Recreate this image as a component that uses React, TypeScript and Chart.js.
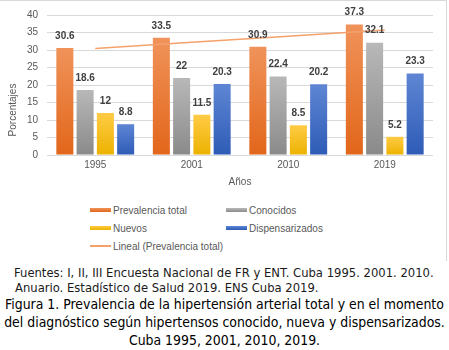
import React, { useEffect, useRef } from "react";
import { Chart, registerables } from "chart.js";

Chart.register(...registerables);

const years = ["1995", "2001", "2010", "2019"];
const prevalenciaTotal = [30.6, 33.5, 30.9, 37.3];
const conocidos = [18.6, 22, 22.4, 32.1];
const nuevos = [12, 11.5, 8.5, 5.2];
const dispensarizados = [8.8, 20.3, 20.2, 23.3];
const linealPrevalencia = [30.45, 32.2, 33.95, 35.7];
const yTicks = [0, 5, 10, 15, 20, 25, 30, 35, 40];

const seriesNames = ["Prevalencia total", "Conocidos", "Nuevos", "Dispensarizados", "Lineal (Prevalencia total)"];

const FONT = "'Liberation Sans', Arial, sans-serif";
const TXT = "#595959";

const colors = {
  orange: ["#F0935A", "#E2661A"],
  gray: ["#B8B8B8", "#8A8A8A"],
  yellow: ["#FFCB45", "#ECB200"],
  blue: ["#5E86D4", "#2E5BB6"],
};

function grad(top: string, bottom: string) {
  return (ctx: any) => {
    const chart = ctx.chart;
    const area = chart.chartArea;
    if (!area || ctx.type !== "data") return bottom;
    const y = chart.scales.y.getPixelForValue(ctx.raw);
    const g = chart.ctx.createLinearGradient(0, y, 0, area.bottom);
    g.addColorStop(0, top);
    g.addColorStop(1, bottom);
    return g;
  };
}

const labelPlugin = {
  id: "barLabels",
  afterDatasetsDraw(chart: any) {
    const ctx = chart.ctx;
    ctx.save();
    ctx.font = `bold 10px ${FONT}`;
    ctx.fillStyle = "#404040";
    ctx.textAlign = "center";
    ctx.textBaseline = "middle";
    for (let d = 0; d < 4; d++) {
      const meta = chart.getDatasetMeta(d);
      meta.data.forEach((el: any, i: number) => {
        const v = chart.data.datasets[d].data[i];
        ctx.fillText(String(v), el.x, el.y - 12);
      });
    }
    // axis titles
    ctx.font = `10px ${FONT}`;
    ctx.fillStyle = TXT;
    const area = chart.chartArea;
    ctx.fillText("Años", (area.left + area.right) / 2, 182);
    ctx.translate(13, 110);
    ctx.rotate(-Math.PI / 2);
    ctx.fillText("Porcentajes", 0, 0);
    ctx.restore();
  },
};

function App() {
  const ref = useRef<HTMLCanvasElement>(null);
  useEffect(() => {
    if (!ref.current) return;
    const barOpts = { categoryPercentage: 0.84, barPercentage: 0.84, order: 2 };
    const chart = new Chart(ref.current, {
      type: "bar",
      data: {
        labels: years,
        datasets: [
          { label: seriesNames[0], data: prevalenciaTotal, backgroundColor: grad(colors.orange[0], colors.orange[1]), ...barOpts },
          { label: seriesNames[1], data: conocidos, backgroundColor: grad(colors.gray[0], colors.gray[1]), ...barOpts },
          { label: seriesNames[2], data: nuevos, backgroundColor: grad(colors.yellow[0], colors.yellow[1]), ...barOpts },
          { label: seriesNames[3], data: dispensarizados, backgroundColor: grad(colors.blue[0], colors.blue[1]), ...barOpts },
          {
            type: "line",
            label: seriesNames[4],
            data: linealPrevalencia,
            borderColor: "#F4A16C",
            borderWidth: 1.5,
            pointRadius: 0,
            fill: false,
            order: 1,
          } as any,
        ],
      },
      options: {
        animation: false,
        responsive: false,
        maintainAspectRatio: false,
        layout: { padding: { left: 0, right: 14, top: 13, bottom: 0 } },
        plugins: { legend: { display: false }, tooltip: { enabled: false }, title: { display: false } },
        scales: {
          x: {
            grid: { display: false, drawTicks: false },
            border: { display: false },
            ticks: { color: TXT, font: { family: FONT, size: 10 }, padding: 4 },
            afterFit(scale: any) { scale.height = 37; },
          },
          y: {
            min: 0,
            max: 40,
            afterBuildTicks(scale: any) { scale.ticks = yTicks.map((v) => ({ value: v })); },
            grid: { color: "#D9D9D9", drawTicks: false },
            border: { display: false },
            ticks: { color: TXT, font: { family: FONT, size: 10 }, padding: 9 },
            afterFit(scale: any) { scale.width = 47; },
          },
        },
      },
      plugins: [labelPlugin],
    });
    return () => chart.destroy();
  }, []);

  const legendItems = [
    { name: seriesNames[0], x: 90, y: 210, c: colors.orange, h: 4 },
    { name: seriesNames[1], x: 226, y: 210, c: colors.gray, h: 4 },
    { name: seriesNames[2], x: 90, y: 228, c: colors.yellow, h: 4 },
    { name: seriesNames[3], x: 226, y: 228, c: colors.blue, h: 4 },
    { name: seriesNames[4], x: 90, y: 246, c: ["#F4A16C", "#F4A16C"], h: 1.5 },
  ];

  return (
    <div style={{ position: "fixed", left: 0, top: 0, width: 449, height: 350, background: "#fff", overflow: "hidden" }}>
      <div style={{ position: "absolute", left: 0, top: 0, width: 446, height: 260, borderTop: "1px solid #D9D9D9", borderRight: "1px solid #D9D9D9" }} />
      <canvas ref={ref} width={447} height={192} style={{ position: "absolute", left: 0, top: 0, width: 447, height: 192 }} />
      {legendItems.map((it) => (
        <div key={it.name} style={{ position: "absolute", left: it.x, top: it.y - 7, height: 14, display: "flex", alignItems: "center", font: `10px ${FONT}`, color: TXT, whiteSpace: "nowrap" }}>
          <span style={{ display: "inline-block", width: 21, height: it.h, background: `linear-gradient(${it.c[0]}, ${it.c[1]})`, marginRight: 2 }} />
          <span>{it.name}</span>
        </div>
      ))}
      <div style={{ position: "absolute", left: 14, top: 266, font: "11.6px 'DejaVu Sans', Verdana, sans-serif", lineHeight: "14.5px", color: "#1a1a1a", whiteSpace: "nowrap" }}>
        <div>Fuentes: I, II, III Encuesta Nacional de FR y ENT. Cuba 1995. 2001. 2010.</div>
        <div style={{ paddingLeft: 1 }}>Anuario. Estadístico de Salud 2019. ENS Cuba 2019.</div>
      </div>
      <div style={{ position: "absolute", left: 0, width: 449, top: 295, textAlign: "center", font: "13.9px 'DejaVu Sans Condensed', Tahoma, sans-serif", lineHeight: "18px", color: "#000", whiteSpace: "nowrap" }}>
        <div>Figura 1. Prevalencia de la hipertensión arterial total y en el momento</div>
        <div>del diagnóstico según hipertensos conocido, nueva y dispensarizados.</div>
        <div>Cuba 1995, 2001, 2010, 2019.</div>
      </div>
    </div>
  );
}

export default App;
